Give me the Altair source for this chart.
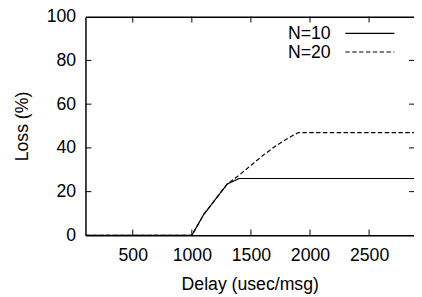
import altair as alt
import pandas as pd

# ---- data ----
delay = [100, 200, 300, 400, 500, 600, 700, 800, 900, 1000,
         1100, 1200, 1300, 1400, 1500, 1600, 1700, 1800, 1900, 2000,
         2100, 2200, 2300, 2400, 2500, 2600, 2700, 2800, 2900, 3000]
loss_n10 = [0, 0, 0, 0, 0, 0, 0, 0, 0, 0,
            9.5, 16.5, 23.5, 26, 26, 26, 26, 26, 26, 26,
            26, 26, 26, 26, 26, 26, 26, 26, 26, 26]
loss_n20 = [0, 0, 0, 0, 0, 0, 0, 0, 0, 0,
            9.5, 16.5, 23.5, 27.5, 32, 36.5, 40.5, 44, 47, 47,
            47, 47, 47, 47, 47, 47, 47, 47, 47, 47]
series_names = ["N=10", "N=20"]
x_ticks = [500, 1000, 1500, 2000, 2500]
y_ticks = [0, 20, 40, 60, 80, 100]
y_inner_ticks = [20, 40, 60, 80]

W, H = 335, 223
FONT = "Liberation Sans"
FS = 18
TICK = 6

rows = []
for d, a, b in zip(delay, loss_n10, loss_n20):
    rows.append({"delay": d, "loss": a, "series": series_names[0]})
    rows.append({"delay": d, "loss": b, "series": series_names[1]})
df = pd.DataFrame(rows)

xscale = alt.Scale(domain=[100, 2880], nice=False, zero=False)
yscale = alt.Scale(domain=[0, 100], nice=False, zero=False)
dash_scale = alt.Scale(domain=series_names, range=[[1, 0], [4.5, 2.5]])

XT = "Delay (usec/msg)"
YT = "Loss (%)"

lines = alt.Chart(df).mark_line(clip=True, color="black", strokeWidth=1.2).encode(
    x=alt.X("delay:Q", scale=xscale, title=XT,
            axis=alt.Axis(values=x_ticks, ticks=False, labelPadding=12, titlePadding=11,
                          grid=False, domainColor="black", domainWidth=1.5, format="d")),
    y=alt.Y("loss:Q", scale=yscale, title=YT,
            axis=alt.Axis(values=y_ticks, ticks=False, labelPadding=10, titlePadding=15,
                          grid=False, domainColor="black", domainWidth=1.5)),
    strokeDash=alt.StrokeDash("series:N", scale=dash_scale, legend=None),
    detail="series:N",
)

xt_df = pd.DataFrame({"delay": x_ticks})
yt_df = pd.DataFrame({"loss": y_inner_ticks})

top_ticks = alt.Chart(xt_df).mark_rule(color="black", strokeWidth=1).encode(
    x=alt.X("delay:Q", scale=xscale, title="",
            axis=alt.Axis(orient="top", labels=False, ticks=False, grid=False,
                          domainColor="black", domainWidth=1.5)),
    y=alt.value(0), y2=alt.value(TICK),
)
bottom_ticks = alt.Chart(xt_df).mark_rule(color="black", strokeWidth=1).encode(
    x=alt.X("delay:Q", scale=xscale, axis=None),
    y=alt.value(H - TICK), y2=alt.value(H),
)
left_ticks = alt.Chart(yt_df).mark_rule(color="black", strokeWidth=1).encode(
    y=alt.Y("loss:Q", scale=yscale, title=YT),
    x=alt.value(0), x2=alt.value(TICK),
)
right_ticks = alt.Chart(yt_df).mark_rule(color="black", strokeWidth=1).encode(
    y=alt.Y("loss:Q", scale=yscale, title=YT),
    x=alt.value(W - 5), x2=alt.value(W),
)

# gnuplot-style key (label left of sample line), top right
legend_layers = []
for i, name in enumerate(series_names):
    ldf = pd.DataFrame({"series": [name]})
    yy = 17 + 19 * i
    legend_layers.append(
        alt.Chart(ldf).mark_text(align="right", baseline="middle", font=FONT,
                                 fontSize=FS, color="black").encode(
            text="series:N", x=alt.value(250), y=alt.value(yy + 1))
    )
    legend_layers.append(
        alt.Chart(ldf).mark_rule(color="black", strokeWidth=1.2).encode(
            x=alt.value(265), x2=alt.value(315), y=alt.value(yy),
            strokeDash=alt.StrokeDash("series:N", scale=dash_scale, legend=None))
    )

chart = alt.layer(lines, top_ticks, bottom_ticks, left_ticks, right_ticks, *legend_layers).resolve_axis(
    x="independent"
).properties(
    width=W, height=H,
    autosize=alt.AutoSizeParams(type="none"),
    padding={"left": 79, "top": 6, "right": 0, "bottom": 60},
).configure_view(stroke=None).configure_axis(
    labelFont=FONT, titleFont=FONT, labelFontSize=FS, titleFontSize=FS,
    titleFontWeight="normal", labelColor="black", titleColor="black",
)

chart.save("out.html", embed_options={"renderer": "svg", "actions": False})
